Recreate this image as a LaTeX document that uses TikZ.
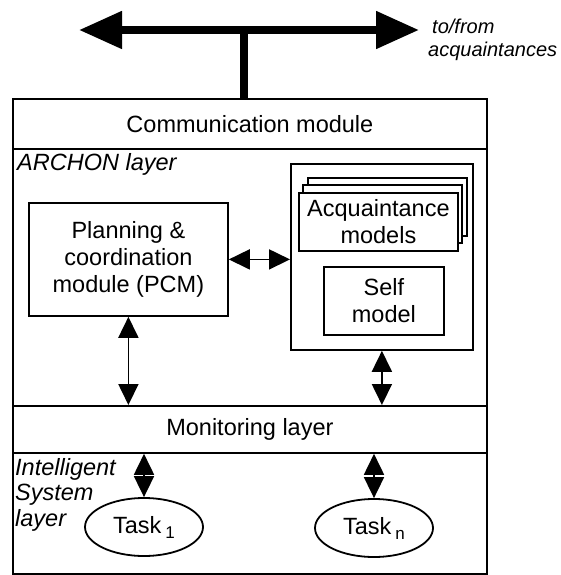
\documentclass[tikz,border=0pt]{standalone}
\usepackage{fontspec}
\setmainfont{Liberation Sans}
\usetikzlibrary{arrows.meta, shapes.geometric}

\newcommand{\lowsub}[1]{\,\raisebox{-0.4ex}{\fontsize{17}{17}\selectfont #1}}

\tikzset{
  layer/.style={draw, line width=1.8pt, minimum width=474pt, inner sep=0pt, anchor=north west},
  module/.style={draw, line width=1.8pt, align=center, inner sep=0pt, anchor=north west},
  task/.style={draw, ellipse, line width=1.8pt, minimum width=118pt, minimum height=58pt, inner sep=0pt},
  tag/.style={font=\fontsize{23.5}{25.5}\selectfont\itshape, align=left, anchor=north west, inner sep=0pt},
  link/.style={line width=1.8pt, {Triangle[length=21pt,width=20pt]}-{Triangle[length=21pt,width=20pt]}},
  bus/.style={line width=8pt, {Triangle[length=43pt,width=36pt]}-{Triangle[length=43pt,width=36pt]}}
}

\begin{document}
\begin{tikzpicture}[x=1pt, y=-1pt, font=\fontsize{23.5}{27}\selectfont]
  \useasboundingbox (0,0) rectangle (560,575);

  % Layers
  \node [layer, minimum height=50pt] (comm) at (12,98) {Communication module};
  \node [layer, minimum height=257pt] (archon) at (12,148) {};
  \node [layer, minimum height=47pt] (monitor) at (12,405) {Monitoring layer};
  \node [layer, minimum height=121pt] (intsys) at (12,452) {};

  \node [tag] (archontag) at (17,153) {ARCHON layer};
  \node [tag] (intsystag) at (15,458) {Intelligent\\System\\layer};

  % Bus to the acquaintances
  \coordinate (busL) at (79,30);
  \coordinate (busR) at (419,30);
  \coordinate (stem) at (244,30);
  \draw [bus] (busL) -- (busR);
  \draw [line width=8pt] (stem) -- (stem |- comm.north);
  \node [tag, font=\fontsize{20}{23}\selectfont\itshape] (dest) at (428,19)
    {\hspace{4pt}to/from\\acquaintances};

  % ARCHON layer
  \node [module, minimum width=199pt, minimum height=113pt] (pcm) at (28,202)
    {Planning \&\\coordination\\module (PCM)};
  \node [module, minimum width=182pt, minimum height=186pt] (models) at (290,163) {};
  \foreach \k in {2,1}
    \filldraw [draw=black, fill=white, line width=1.8pt] (298+5*\k, 192-7*\k) rectangle +(159,58);
  \node [module, fill=white, minimum width=159pt, minimum height=58pt] (acq) at (298,192)
    {Acquaintance\\models};
  \node [module, minimum width=120pt, minimum height=68pt] (self) at (323,266) {Self\\model};

  \draw [link] (pcm.east) -- (pcm.east -| models.west);
  \draw [link] (pcm.south) -- (pcm.south |- monitor.north);
  \draw [link] (models.south) -- (models.south |- monitor.north);

  % Intelligent System layer
  \node [task] (task1) at (144,527) {Task\lowsub{1}};
  \node [task] (taskn) at (374,528) {Task\lowsub{n}};

  \draw [link] (task1.north |- monitor.south) -- (task1.north);
  \draw [link] (taskn.north |- monitor.south) -- (taskn.north);
\end{tikzpicture}
\end{document}
